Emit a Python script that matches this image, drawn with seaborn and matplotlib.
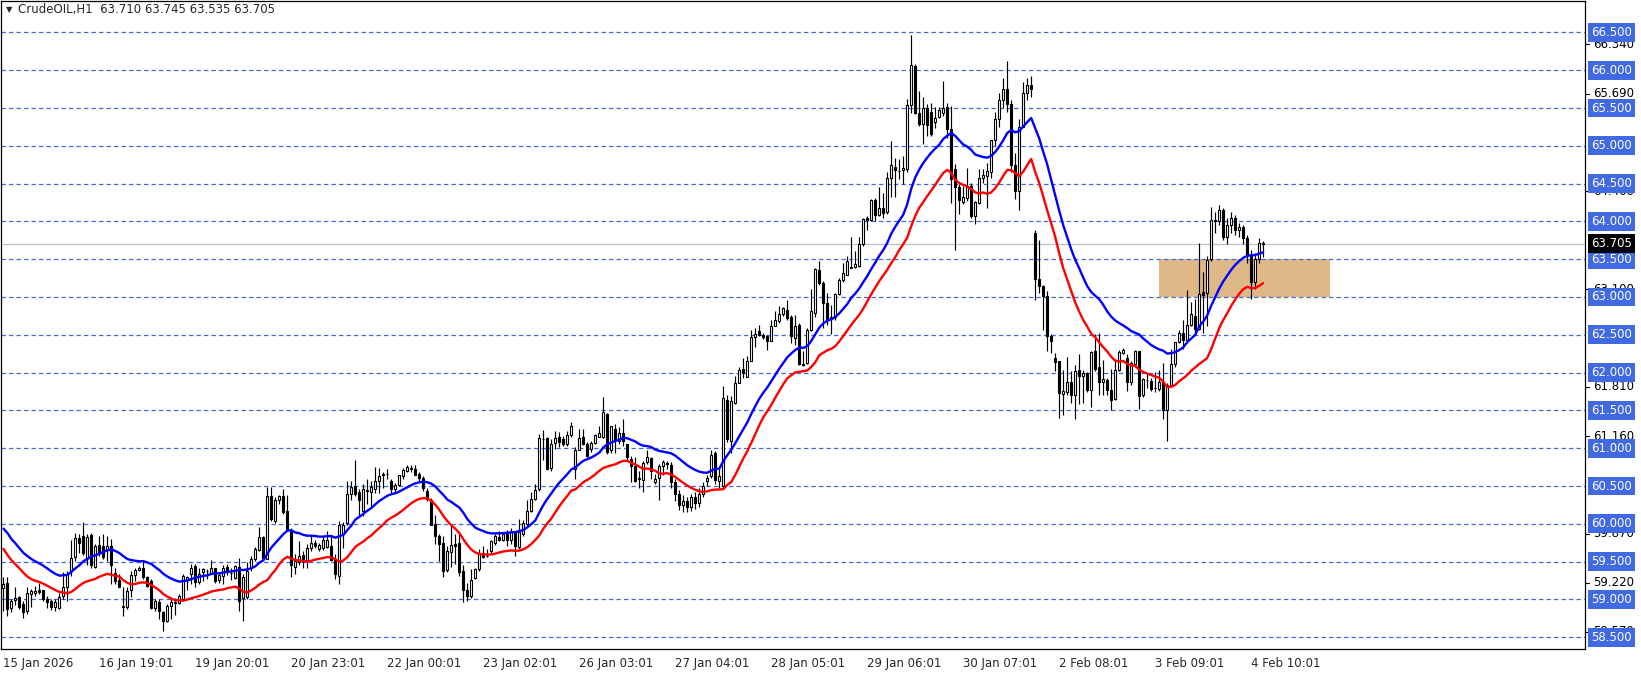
import numpy as np
import pandas as pd
import seaborn as sns
import matplotlib.pyplot as plt
from matplotlib.patches import Rectangle
from matplotlib.transforms import blended_transform_factory

# hourly candles, CrudeOIL H1
opens = [59.15, 59.22, 58.89, 58.99, 59.03, 58.94, 58.85, 59.07, 59.09, 59.13, 59.12, 59.00, 58.98, 58.90, 58.89, 59.05, 59.17, 59.37, 59.56, 59.81,
         59.84, 59.55, 59.85, 59.43, 59.72, 59.71, 59.65, 59.71, 59.35, 59.25, 58.91, 58.90, 59.12, 59.32, 59.39, 59.41, 59.29, 59.24, 58.88, 58.97,
         58.83, 58.72, 58.91, 58.95, 58.95, 59.00, 59.26, 59.33, 59.44, 59.23, 59.36, 59.38, 59.35, 59.41, 59.26, 59.31, 59.43, 59.35, 59.28, 59.43,
         59.02, 59.03, 59.42, 59.54, 59.66, 59.82, 59.54, 60.37, 60.04, 60.31, 60.37, 60.17, 59.91, 59.43, 59.50, 59.59, 59.52, 59.68, 59.74, 59.67,
         59.68, 59.69, 59.71, 59.53, 59.31, 59.87, 60.01, 60.40, 60.50, 60.42, 60.17, 60.44, 60.42, 60.46, 60.57, 60.65, 60.66, 60.57, 60.46, 60.51,
         60.63, 60.70, 60.72, 60.72, 60.66, 60.60, 60.43, 60.32, 60.00, 59.84, 59.74, 59.39, 59.63, 59.73, 59.74, 59.38, 59.12, 59.05, 59.28, 59.40,
         59.62, 59.57, 59.64, 59.74, 59.83, 59.79, 59.86, 59.78, 59.89, 59.69, 59.87, 60.00, 60.17, 60.33, 60.46, 61.12, 61.14, 60.74, 61.07, 61.15,
         61.12, 61.06, 61.18, 60.73, 60.98, 61.15, 61.06, 60.99, 61.07, 61.15, 61.15, 61.45, 60.97, 61.26, 61.10, 61.20, 61.06, 60.86, 60.76, 60.59,
         60.58, 60.82, 60.87, 60.55, 60.61, 60.77, 60.80, 60.78, 60.55, 60.40, 60.25, 60.30, 60.22, 60.35, 60.28, 60.40, 60.56, 60.63, 60.93, 60.56,
         60.50, 61.64, 61.10, 61.60, 61.86, 62.05, 61.94, 62.16, 62.47, 62.55, 62.50, 62.49, 62.42, 62.62, 62.68, 62.78, 62.83, 62.74, 62.46, 62.63,
         62.12, 62.13, 62.56, 62.79, 63.36, 63.19, 62.92, 62.73, 62.74, 63.04, 63.23, 63.29, 63.39, 63.40, 63.41, 63.70, 64.04, 64.02, 64.28, 64.09,
         64.18, 64.12, 64.58, 64.72, 64.67, 64.68, 64.69, 65.54, 66.06, 65.44, 65.29, 65.50, 65.45, 65.31, 65.38, 65.44, 65.51, 65.22, 64.69, 64.45,
         64.26, 64.31, 64.47, 64.07, 64.25, 64.57, 64.60, 64.66, 65.08, 65.35, 65.60, 65.75, 65.55, 64.75, 64.40, 65.25, 65.70, 65.80, 63.84, 63.24,
         63.15, 63.01, 62.49, 62.19, 62.15, 61.72, 61.74, 61.88, 61.70, 62.04, 61.95, 61.99, 61.77, 62.28, 62.07, 61.88, 61.90, 61.77, 61.65, 62.03,
         62.26, 62.19, 61.87, 62.12, 62.28, 61.71, 61.90, 61.89, 61.80, 61.78, 61.87, 61.51, 61.84, 62.12, 62.40, 62.52, 62.43, 62.63, 62.75, 62.58,
         63.06, 63.05, 63.50, 64.02, 64.00, 64.15, 63.80, 63.95, 64.05, 63.88, 63.92, 63.78, 63.55, 63.20, 63.50, 63.710]
highs = [59.30, 59.29, 59.00, 59.16, 59.05, 58.98, 59.16, 59.14, 59.18, 59.22, 59.13, 59.04, 59.00, 59.00, 59.09, 59.36, 59.38, 59.78, 59.88, 59.86,
         60.02, 59.86, 59.88, 59.73, 59.84, 59.86, 59.84, 59.80, 59.42, 59.33, 59.16, 59.16, 59.38, 59.42, 59.44, 59.52, 59.31, 59.27, 59.00, 59.00,
         58.85, 58.94, 59.00, 59.02, 59.07, 59.33, 59.31, 59.47, 59.47, 59.42, 59.42, 59.40, 59.52, 59.42, 59.35, 59.45, 59.47, 59.42, 59.46, 59.55,
         59.33, 59.49, 59.57, 59.69, 59.96, 59.84, 60.49, 60.49, 60.35, 60.38, 60.46, 60.38, 59.94, 59.60, 59.77, 59.64, 59.73, 59.85, 59.79, 59.75,
         59.84, 59.90, 59.84, 59.60, 60.04, 60.02, 60.57, 60.57, 60.84, 60.46, 60.52, 60.59, 60.57, 60.75, 60.74, 60.68, 60.72, 60.59, 60.54, 60.65,
         60.74, 60.78, 60.78, 60.78, 60.68, 60.63, 60.48, 60.34, 60.12, 59.86, 59.84, 59.70, 59.99, 59.86, 59.86, 59.46, 59.22, 59.40, 59.42, 59.67,
         59.70, 59.67, 59.79, 59.86, 59.91, 59.89, 59.92, 59.95, 59.91, 60.06, 60.05, 60.31, 60.42, 60.53, 61.19, 61.24, 61.15, 61.12, 61.23, 61.21,
         61.16, 61.23, 61.34, 61.01, 61.25, 61.25, 61.08, 61.10, 61.19, 61.30, 61.68, 61.47, 61.30, 61.32, 61.28, 61.39, 61.06, 60.90, 60.88, 60.70,
         60.83, 60.97, 60.88, 60.66, 60.79, 60.85, 60.83, 60.82, 60.59, 60.45, 60.38, 60.36, 60.40, 60.42, 60.48, 60.55, 60.65, 60.98, 60.96, 60.75,
         61.82, 61.71, 61.69, 61.95, 62.08, 62.19, 62.22, 62.57, 62.59, 62.63, 62.53, 62.50, 62.70, 62.81, 62.88, 62.87, 62.96, 62.76, 62.76, 62.66,
         62.28, 62.59, 63.10, 63.38, 63.47, 63.21, 63.05, 62.89, 63.05, 63.25, 63.45, 63.54, 63.80, 63.61, 63.79, 64.04, 64.07, 64.30, 64.31, 64.45,
         64.37, 64.65, 65.07, 64.84, 64.82, 64.87, 65.62, 66.47, 66.08, 65.73, 65.64, 65.55, 65.57, 65.51, 65.51, 65.86, 65.56, 65.52, 64.76, 64.49,
         64.47, 64.71, 64.51, 64.27, 64.69, 64.69, 64.77, 65.08, 65.45, 65.70, 65.90, 66.12, 65.60, 64.90, 65.35, 65.85, 65.90, 65.92, 63.89, 63.76,
         63.16, 63.08, 62.51, 62.26, 62.15, 62.04, 62.21, 62.02, 62.10, 62.25, 62.04, 62.01, 62.29, 62.51, 62.52, 62.17, 61.93, 62.05, 62.18, 62.30,
         62.32, 62.24, 62.15, 62.30, 62.28, 61.93, 61.98, 61.93, 62.01, 62.04, 62.13, 61.86, 62.31, 62.41, 62.56, 62.69, 63.09, 62.94, 62.97, 63.71,
         63.33, 63.54, 64.19, 64.12, 64.22, 64.18, 64.05, 64.12, 64.08, 63.98, 63.95, 63.82, 63.62, 63.58, 63.78, 63.745]
lows = [58.85, 58.78, 58.83, 58.92, 58.87, 58.76, 58.81, 58.90, 59.05, 59.07, 58.98, 58.89, 58.86, 58.85, 58.87, 59.00, 58.98, 59.31, 59.51, 59.62,
        59.59, 59.46, 59.42, 59.42, 59.58, 59.53, 59.51, 59.20, 59.20, 59.16, 58.78, 58.87, 59.03, 59.24, 59.38, 59.27, 59.16, 58.87, 58.85, 58.74,
        58.58, 58.70, 58.74, 58.80, 58.94, 58.98, 59.13, 59.20, 59.16, 59.20, 59.25, 59.27, 59.33, 59.22, 59.22, 59.20, 59.32, 59.26, 59.27, 58.85,
        58.72, 59.00, 59.38, 59.51, 59.64, 59.54, 59.53, 60.04, 60.01, 60.26, 60.13, 59.91, 59.29, 59.34, 59.46, 59.42, 59.42, 59.64, 59.68, 59.64,
        59.66, 59.68, 59.51, 59.27, 59.20, 59.68, 59.99, 60.32, 60.37, 60.10, 60.10, 60.26, 60.21, 60.41, 60.41, 60.48, 60.59, 60.41, 60.41, 60.50,
        60.59, 60.68, 60.68, 60.65, 60.57, 60.43, 60.30, 59.99, 59.73, 59.51, 59.29, 59.36, 59.43, 59.47, 59.31, 58.97, 58.98, 59.02, 59.27, 59.38,
        59.55, 59.56, 59.62, 59.72, 59.77, 59.77, 59.70, 59.73, 59.58, 59.67, 59.84, 59.98, 60.15, 60.31, 60.44, 60.84, 60.71, 60.70, 60.99, 61.02,
        61.03, 61.03, 61.15, 60.59, 60.98, 61.04, 60.88, 60.95, 61.06, 61.15, 61.14, 60.92, 60.94, 60.93, 61.06, 61.03, 60.84, 60.55, 60.55, 60.48,
        60.42, 60.79, 60.59, 60.53, 60.31, 60.64, 60.72, 60.48, 60.30, 60.18, 60.15, 60.16, 60.17, 60.20, 60.22, 60.35, 60.50, 60.61, 60.52, 60.48,
        60.48, 61.08, 60.94, 61.58, 61.86, 61.93, 61.94, 62.15, 62.34, 62.49, 62.44, 62.30, 62.42, 62.61, 62.65, 62.75, 62.69, 62.39, 62.37, 62.10,
        62.09, 62.12, 62.55, 62.74, 63.16, 62.59, 62.63, 62.51, 62.70, 63.03, 63.20, 63.29, 63.38, 63.38, 63.40, 63.67, 63.89, 64.00, 64.00, 64.07,
        64.04, 64.10, 64.32, 64.32, 64.56, 64.49, 64.65, 65.44, 65.42, 65.26, 65.02, 65.13, 65.13, 65.24, 65.37, 65.40, 65.10, 64.25, 63.62, 64.10,
        64.23, 64.27, 64.05, 63.96, 64.23, 64.51, 64.18, 64.58, 65.00, 65.25, 65.50, 65.45, 64.65, 64.30, 64.15, 65.25, 65.60, 65.65, 62.96, 63.05,
        62.57, 62.28, 62.26, 62.02, 61.40, 61.44, 61.71, 61.60, 61.38, 61.58, 61.60, 61.75, 61.55, 62.02, 61.71, 61.71, 61.71, 61.51, 61.64, 62.02,
        62.24, 61.76, 61.84, 62.08, 61.52, 61.68, 61.80, 61.76, 61.75, 61.76, 61.38, 61.10, 61.82, 62.08, 62.39, 62.31, 62.39, 62.61, 62.50, 62.57,
        62.52, 62.61, 63.48, 63.85, 63.95, 63.75, 63.70, 63.85, 63.82, 63.80, 63.70, 63.45, 62.98, 63.10, 63.45, 63.535]
closes = [59.21, 58.87, 58.98, 59.02, 58.90, 58.83, 59.09, 59.11, 59.11, 59.10, 59.00, 58.97, 58.90, 58.97, 59.03, 59.16, 59.34, 59.55, 59.81, 59.75,
          59.61, 59.83, 59.45, 59.71, 59.62, 59.56, 59.70, 59.45, 59.24, 59.17, 58.90, 59.11, 59.32, 59.39, 59.41, 59.29, 59.18, 58.89, 58.98, 58.85,
          58.72, 58.91, 58.97, 58.96, 59.05, 59.31, 59.30, 59.41, 59.23, 59.34, 59.40, 59.38, 59.41, 59.25, 59.32, 59.42, 59.37, 59.35, 59.44, 58.98,
          59.29, 59.38, 59.54, 59.67, 59.82, 59.55, 60.37, 60.06, 60.32, 60.37, 60.15, 59.93, 59.45, 59.51, 59.58, 59.54, 59.68, 59.74, 59.71, 59.72,
          59.78, 59.79, 59.52, 59.33, 59.99, 59.99, 60.40, 60.49, 60.40, 60.32, 60.46, 60.45, 60.49, 60.57, 60.63, 60.66, 60.66, 60.46, 60.51, 60.65,
          60.71, 60.75, 60.74, 60.65, 60.60, 60.48, 60.33, 59.99, 59.84, 59.73, 59.38, 59.64, 59.72, 59.71, 59.36, 59.12, 59.05, 59.25, 59.40, 59.62,
          59.56, 59.58, 59.77, 59.84, 59.79, 59.86, 59.78, 59.89, 59.70, 59.89, 60.01, 60.17, 60.33, 60.45, 61.14, 61.12, 60.73, 61.06, 61.13, 61.08,
          61.06, 61.17, 61.30, 60.98, 61.14, 61.06, 60.90, 61.07, 61.17, 61.20, 61.48, 60.95, 61.29, 61.11, 61.20, 61.10, 60.88, 60.76, 60.56, 60.61,
          60.81, 60.89, 60.70, 60.59, 60.76, 60.82, 60.79, 60.55, 60.40, 60.25, 60.30, 60.22, 60.35, 60.28, 60.40, 60.50, 60.61, 60.91, 60.58, 60.63,
          61.67, 61.12, 61.62, 61.86, 62.03, 61.99, 62.16, 62.47, 62.51, 62.50, 62.47, 62.42, 62.61, 62.69, 62.78, 62.85, 62.72, 62.48, 62.62, 62.12,
          62.10, 62.57, 62.81, 63.37, 63.19, 62.92, 62.71, 62.71, 63.04, 63.23, 63.32, 63.48, 63.40, 63.43, 63.70, 64.03, 64.02, 64.28, 64.09, 64.18,
          64.11, 64.58, 64.74, 64.68, 64.67, 64.70, 65.54, 66.07, 65.44, 65.29, 65.50, 65.28, 65.16, 65.37, 65.48, 65.50, 65.22, 64.56, 64.45, 64.28,
          64.32, 64.46, 64.07, 64.25, 64.58, 64.62, 64.67, 65.08, 65.35, 65.60, 65.75, 65.55, 64.75, 64.40, 65.25, 65.70, 65.80, 65.75, 63.24, 63.14,
          63.01, 62.48, 62.42, 62.14, 61.73, 61.76, 61.88, 61.71, 62.02, 61.95, 61.99, 61.77, 62.27, 62.05, 61.88, 61.91, 61.77, 61.64, 62.04, 62.27,
          62.30, 61.88, 62.13, 62.28, 61.69, 61.91, 61.90, 61.78, 61.79, 61.87, 61.51, 61.84, 62.12, 62.40, 62.52, 62.43, 62.63, 62.77, 62.58, 63.04,
          63.03, 63.49, 64.02, 64.00, 64.15, 63.80, 63.95, 64.05, 63.88, 63.92, 63.78, 63.55, 63.20, 63.50, 63.71, 63.705]

time_labels = ['15 Jan 2026', '16 Jan 19:01', '19 Jan 20:01', '20 Jan 23:01', '22 Jan 00:01', '23 Jan 02:01',
               '26 Jan 03:01', '27 Jan 04:01', '28 Jan 05:01', '29 Jan 06:01', '30 Jan 07:01', '2 Feb 08:01',
               '3 Feb 09:01', '4 Feb 10:01']
level_lines = [66.5, 66.0, 65.5, 65.0, 64.5, 64.0, 63.5, 63.0, 62.5, 62.0, 61.5, 61.0, 60.5, 60.0, 59.5, 59.0, 58.5]
# price-scale labels that are still visible next to the level boxes
scale_prices = [66.34, 65.69, 64.40, 63.10, 61.81, 61.16, 59.87, 59.22, 58.57]
bid_price = 63.705
zone_low, zone_high = 63.0, 63.5
ma_seed_high, ma_seed_low = 60.0, 59.75   # MA values at the left edge

n = len(closes)
df = pd.DataFrame({'bar': np.arange(n), 'open': opens, 'high': highs, 'low': lows, 'close': closes})
df['ma_high'] = pd.Series([ma_seed_high] + highs).ewm(span=21, adjust=False).mean().iloc[1:].values
df['ma_low'] = pd.Series([ma_seed_low] + lows).ewm(span=21, adjust=False).mean().iloc[1:].values

sns.set_style("white")
plt.rcParams['font.family'] = ['DejaVu Sans']

W, H = 1641, 674
fig = plt.figure(figsize=(W / 100, H / 100), dpi=100)
ax_left, ax_right, ax_top, ax_bot = 0.5, 1585, 1, 649
ax = fig.add_axes([ax_left / W, (H - ax_bot) / H, (ax_right - ax_left) / W, (ax_bot - ax_top) / H])

px = 75.6  # pixels per price unit
ymax = 66.5 + (32.4 - ax_top) / px
ymin = 66.5 - (ax_bot - 32.4) / px
ax.set_ylim(ymin, ymax)
ax.set_xlim(-0.75, (ax_right - 3) / 4)

# support zone
ax.add_patch(Rectangle((289, zone_low), 42.75, zone_high - zone_low, facecolor='#DEB887',
                       edgecolor='none', zorder=0.5))

# horizontal levels
for lv in level_lines:
    ax.axhline(lv, color='#4169E1', lw=0.9, ls=(0, (3.5, 2.5)), zorder=1)
ax.axhline(bid_price, color='#C0C0C0', lw=0.9, zorder=1)

# candles
up = df['close'] >= df['open']
ax.vlines(df['bar'], df['low'], df['high'], color='black', lw=0.85, zorder=2)
body_lo = np.minimum(df['open'], df['close'])
body_h = (df['close'] - df['open']).abs()
ax.bar(df['bar'][up], body_h[up], bottom=body_lo[up], width=0.5, color='white',
       edgecolor='black', linewidth=0.8, zorder=3)
ax.bar(df['bar'][~up], body_h[~up], bottom=body_lo[~up], width=0.5, color='black',
       edgecolor='black', linewidth=0.8, zorder=3)

# moving averages of high / low
sns.lineplot(data=df, x='bar', y='ma_high', color='#0000FF', lw=1.7, ax=ax, zorder=4)
sns.lineplot(data=df, x='bar', y='ma_low', color='#FF0000', lw=1.7, ax=ax, zorder=4)

for sp in ax.spines.values():
    sp.set_color('black')
    sp.set_linewidth(0.9)

ax.set_ylabel('')
ax.set_xlabel('')
ax.set_yticks([])
ax.set_xticks(np.arange(len(time_labels)) * 24)
ax.set_xticklabels(time_labels, ha='left', fontsize=8.5)
ax.tick_params(axis='x', direction='out', length=4, width=0.8, color='black', pad=2)
ax.tick_params(axis='y', left=False, right=False)

# right price scale
tr = blended_transform_factory(fig.transFigure, ax.transData)
for p in scale_prices:
    ax.plot([ax_right / W, (ax_right + 4) / W], [p, p], color='black', lw=0.8,
            transform=tr, clip_on=False)
    ax.text(1593 / W, p, f'{p:.3f}', transform=tr, fontsize=8.5, color='black',
            va='center', ha='left', clip_on=False, zorder=5)
for lv in level_lines:
    ax.text(1591 / W, lv, f'{lv:.3f}', transform=tr, fontsize=8.5, color='white', va='center',
            ha='left', clip_on=False, zorder=6,
            bbox=dict(boxstyle='square,pad=0.25', fc='#4169E1', ec='none'))
ax.text(1591 / W, bid_price, f'{bid_price:.3f}', transform=tr, fontsize=8.5, color='white',
        va='center', ha='left', clip_on=False, zorder=7,
        bbox=dict(boxstyle='square,pad=0.25', fc='black', ec='none'))

# header
ax.text(6 / W, 1 - 10 / H, '\u25BC', transform=fig.transFigure, fontsize=6, va='center', ha='left')
ax.text(18 / W, 1 - 10 / H, 'CrudeOIL,H1  63.710 63.745 63.535 63.705', transform=fig.transFigure,
        fontsize=8.5, va='center', ha='left')

fig.savefig('out.png', dpi=100)
